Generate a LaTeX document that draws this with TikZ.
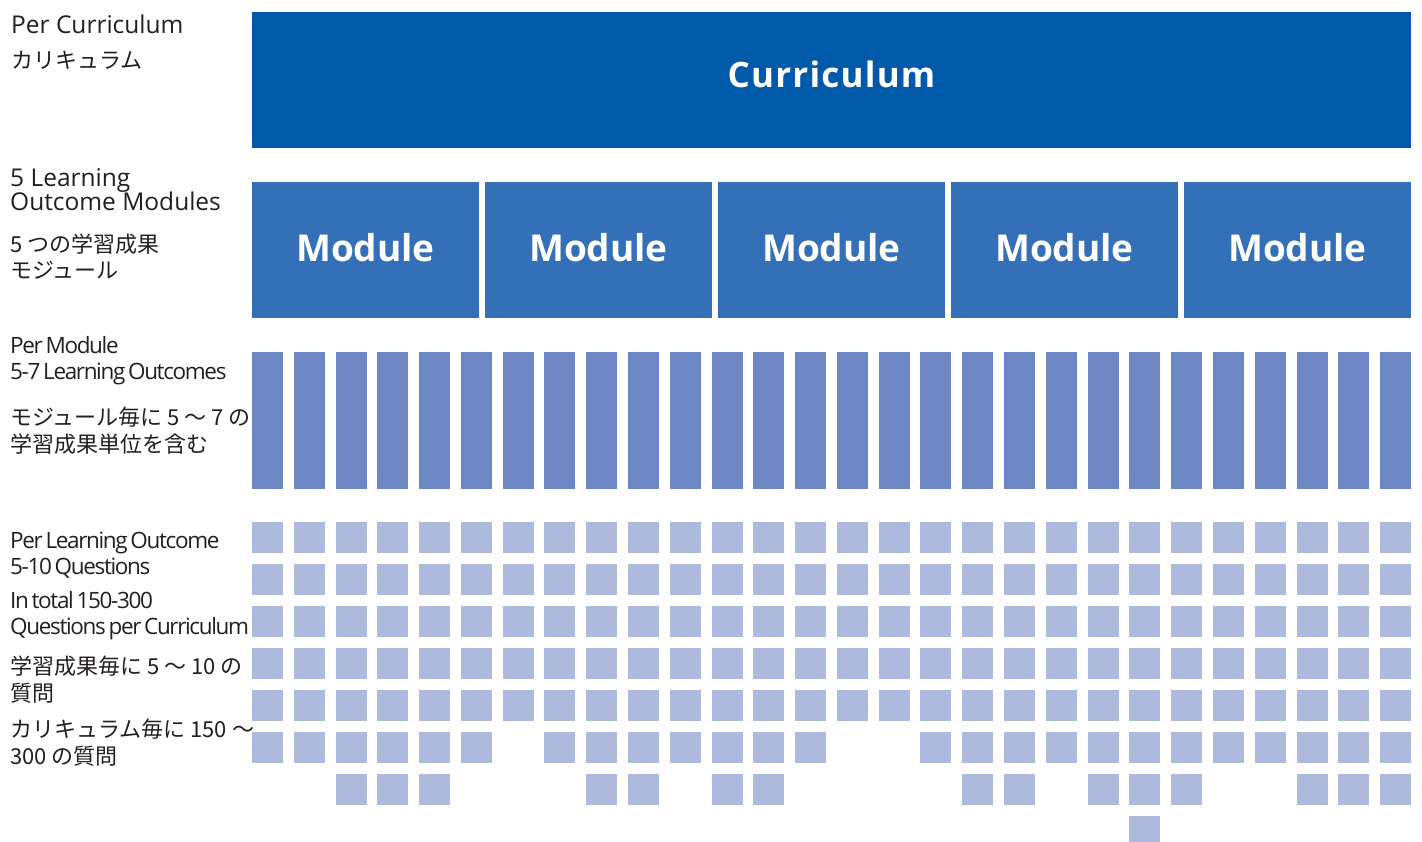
\documentclass[tikz,border=0pt]{standalone}
\usepackage{fontspec}
\setmainfont{Open Sans}
\newfontfamily\jp{Noto Sans CJK JP}
\newfontfamily\cond{Open Sans}[LetterSpace=-6,WordSpace=0.6]
\definecolor{curr}{RGB}{1,89,169}
\definecolor{modc}{RGB}{51,112,184}
\definecolor{barc}{RGB}{109,135,196}
\definecolor{sqc}{RGB}{173,186,222}
\definecolor{txt}{RGB}{35,31,32}
\tikzset{
  blk/.style={anchor=north west, inner sep=0pt, outer sep=0pt, draw=none},
  lbl/.style={anchor=base west, inner sep=0pt, text=txt, font=\fontsize{24.5}{28}\selectfont},
  jlbl/.style={lbl, font=\fontsize{22}{26}\selectfont\jp},
  clbl/.style={lbl, font=\fontsize{22.5}{26}\selectfont\cond},
  boxlbl/.style={anchor=base, inner sep=0pt, text=white, font=\fontsize{37}{40}\selectfont\bfseries},
}
\begin{document}
\begin{tikzpicture}[x=1pt,y=-1pt]
\useasboundingbox (0,0) rectangle (1422,842);
\clip (0,0) rectangle (1422,842);
% Curriculum
\node[blk, fill=curr, minimum width=1159pt, minimum height=136pt] (cur) at (252,12) {};
\node[boxlbl, font=\fontsize{35}{40}\selectfont\bfseries\addfontfeature{LetterSpace=3.5}] (curlbl) at (831.5,88) {Curriculum};
% Modules
\foreach \m in {0,...,4}{
  \node[blk, fill=modc, minimum width=227pt, minimum height=136pt] (mod\m) at ({252+\m*233},182) {};
  \node[boxlbl] (modlbl\m) at ({365.5+\m*233},262) {Module};
}
% Learning outcome bars
\foreach \c in {0,...,27}{
  \node[blk, fill=barc, minimum width=31pt, minimum height=136.5pt] (bar\c) at ({252+\c*41.78},352) {};
}
% Questions
\foreach \c/\h in {0/6,1/6,2/7,3/7,4/7,5/6,6/5,7/6,8/7,9/7,10/6,11/7,12/7,13/6,14/5,15/5,16/6,17/7,18/7,19/6,20/7,21/8,22/7,23/6,24/6,25/7,26/7,27/7}{
  \foreach \r in {1,...,\h}{
    \node[blk, fill=sqc, minimum width=31pt, minimum height=31pt] (q\c-\r) at ({252+\c*41.78},{522+(\r-1)*42}) {};
  }
}
% Left labels
\node[lbl] (t1) at (11,34) {Per Curriculum};
\node[jlbl] (t2) at (11,69) {カリキュラム};
\node[lbl] (t3) at (10,187) {5 Learning};
\node[lbl] (t4) at (10,211) {Outcome Modules};
\node[jlbl] (t5) at (10,253) {5 つの学習成果};
\node[jlbl] (t6) at (10,279) {モジュール};
\node[clbl] (t7) at (10,354) {Per Module};
\node[clbl] (t8) at (10,379) {5-7 Learning Outcomes};
\node[jlbl] (t9) at (10,425) {モジュール毎に 5 〜 7 の};
\node[jlbl] (t10) at (10,452) {学習成果単位を含む};
\node[clbl] (t11) at (10,548) {Per Learning Outcome};
\node[clbl] (t12) at (10,574) {5-10 Questions};
\node[clbl] (t13) at (10,608) {In total 150-300};
\node[clbl] (t14) at (10,634) {Questions per Curriculum};
\node[jlbl] (t15) at (10,674) {学習成果毎に 5 〜 10 の};
\node[jlbl] (t16) at (10,701) {質問};
\node[jlbl] (t17) at (10,737) {カリキュラム毎に 150 〜};
\node[jlbl] (t18) at (10,764) {300 の質問};
\end{tikzpicture}
\end{document}
